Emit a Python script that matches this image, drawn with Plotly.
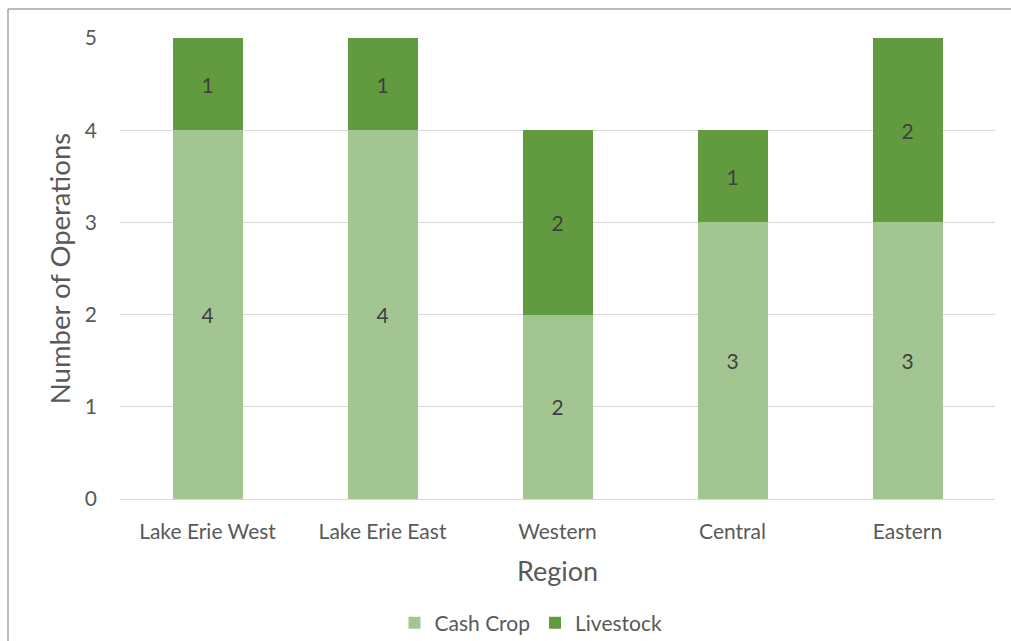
import plotly.graph_objects as go

# Operations per region, split by operation type
regions = ["Lake Erie West", "Lake Erie East", "Western", "Central", "Eastern"]
cash_crop = [4, 4, 2, 3, 3]
livestock = [1, 1, 2, 1, 2]
y_ticks = [0, 1, 2, 3, 4, 5]

LIGHT = "#A2C591"
DARK = "#629A3F"
TEXT = "#595959"
FONT = "Lato, 'Open Sans', sans-serif"

W, H = 1011, 641
L, R, T, B = 120, 16, 38, 142
pw, ph = W - L - R, H - T - B

fig = go.Figure()
for name, vals, col in [("Cash Crop", cash_crop, LIGHT), ("Livestock", livestock, DARK)]:
    fig.add_trace(go.Bar(
        name=name, x=regions, y=vals, marker=dict(color=col, line=dict(width=0)),
        text=vals, texttemplate="%{text}", textposition="inside",
        insidetextanchor="middle", textangle=0,
        textfont=dict(family=FONT, size=21, color="#404040"),
    ))

# Outer chart border (left and top edges)
bx = (8 - L) / pw
by = 1 + (T - 9) / ph
fig.add_shape(type="line", xref="paper", yref="paper", x0=bx, x1=1.2, y0=by, y1=by,
              line=dict(color="#A6A6A6", width=1.5))
fig.add_shape(type="line", xref="paper", yref="paper", x0=bx, x1=bx, y0=by, y1=-0.5,
              line=dict(color="#A6A6A6", width=1.5))

fig.update_layout(
    width=W, height=H,
    margin=dict(l=L, r=R, t=T, b=B, autoexpand=False),
    barmode="stack", bargap=0.6,
    plot_bgcolor="white", paper_bgcolor="white",
    font=dict(family=FONT, color=TEXT, size=21),
    showlegend=True,
    legend=dict(orientation="h", x=(531 - L) / pw, xanchor="center", y=1 - (623 - T) / ph, yanchor="middle",
                font=dict(size=21, color=TEXT), traceorder="normal", itemwidth=30),
    xaxis=dict(title=dict(text="Region", font=dict(size=27, color=TEXT), standoff=19),
               showgrid=False, showline=True, linecolor="#D9D9D9", linewidth=1,
               ticks="", ticklabelstandoff=14, tickfont=dict(size=21, color=TEXT)),
    yaxis=dict(title=dict(text="Number of Operations", font=dict(size=27.5, color=TEXT), standoff=6),
               range=[0, 5], tickvals=y_ticks, showgrid=True, gridcolor="#D9D9D9", gridwidth=1,
               zeroline=False, showline=False, ticks="", ticklabelstandoff=22,
               tickfont=dict(size=21, color=TEXT)),
)

fig.write_html("out.html")
